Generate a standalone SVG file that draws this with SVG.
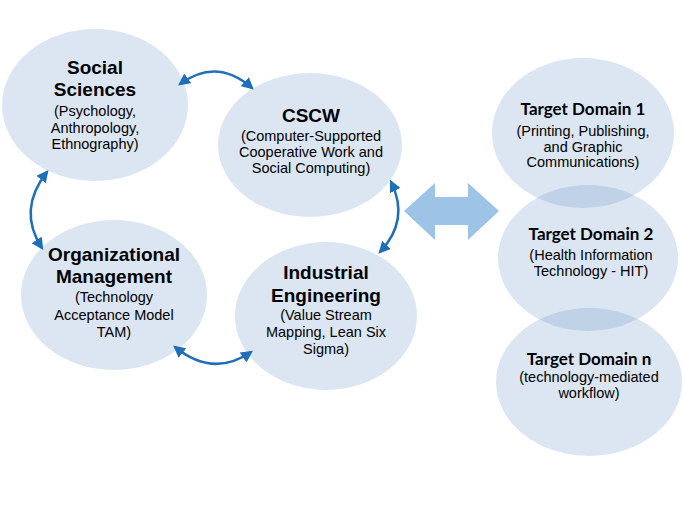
<svg xmlns="http://www.w3.org/2000/svg" width="683" height="512" viewBox="0 0 683 512">
<defs>
<style>
.node{fill:#4F81BD;fill-opacity:0.2}
.t{font-family:"Liberation Sans",Arial,sans-serif;fill:#000;text-anchor:middle}
.b{font-weight:bold;font-size:19px}
.r{font-size:14.5px}
.c{font-family:Lato,"Liberation Sans",sans-serif;font-weight:bold;font-size:17px;fill:#000;text-anchor:middle}
.conn{fill:none;stroke:#1F6FB8;stroke-width:2.5;marker-start:url(#ah);marker-end:url(#ah)}
</style>
<marker id="ah" viewBox="0 0 10 10" refX="8" refY="5" markerWidth="4.8" markerHeight="4.8" orient="auto-start-reverse" markerUnits="strokeWidth">
<path d="M0,0 L10,5 L0,10 z" fill="#1F6FB8"/>
</marker>
</defs>
<rect width="683" height="512" fill="#fff"/>

<g id="social-sciences">
<ellipse class="node" cx="95" cy="105" rx="93" ry="76"/>
<text class="t b" x="95" y="74">Social</text>
<text class="t b" x="95" y="96">Sciences</text>
<text class="t r" x="95" y="116">(Psychology,</text>
<text class="t r" x="95" y="133">Anthropology,</text>
<text class="t r" x="95" y="149">Ethnography)</text>
</g>

<g id="cscw">
<ellipse class="node" cx="310" cy="145" rx="92" ry="72"/>
<text class="t b" x="311" y="122">CSCW</text>
<text class="t r" x="311" y="141">(Computer-Supported</text>
<text class="t r" x="311" y="157">Cooperative Work and</text>
<text class="t r" x="311" y="173">Social Computing)</text>
</g>

<g id="organizational-management">
<ellipse class="node" cx="114" cy="295" rx="93" ry="75"/>
<text class="t b" x="114" y="261">Organizational</text>
<text class="t b" x="114" y="283">Management</text>
<text class="t r" x="114" y="302">(Technology</text>
<text class="t r" x="114" y="320">Acceptance Model</text>
<text class="t r" x="114" y="337">TAM)</text>
</g>

<g id="industrial-engineering">
<ellipse class="node" cx="326" cy="316" rx="91" ry="74"/>
<text class="t b" x="326" y="279">Industrial</text>
<text class="t b" x="326" y="302">Engineering</text>
<text class="t r" x="326" y="320">(Value Stream</text>
<text class="t r" x="326" y="337">Mapping, Lean Six</text>
<text class="t r" x="326" y="354">Sigma)</text>
</g>

<g id="target-domain-1">
<ellipse class="node" cx="583" cy="133" rx="91" ry="75"/>
<text class="c" x="583" y="115">Target Domain 1</text>
<text class="t r" x="583" y="136">(Printing, Publishing,</text>
<text class="t r" x="583" y="152">and Graphic</text>
<text class="t r" x="583" y="167">Communications)</text>
</g>

<g id="target-domain-2">
<ellipse class="node" cx="588" cy="258" rx="90" ry="73"/>
<text class="c" x="591" y="240">Target Domain 2</text>
<text class="t r" x="591" y="260">(Health Information</text>
<text class="t r" x="591" y="276">Technology - HIT)</text>
</g>

<g id="target-domain-n">
<ellipse class="node" cx="589" cy="382" rx="93" ry="74"/>
<text class="c" x="589" y="365">Target Domain n</text>
<text class="t r" x="589" y="382">(technology-mediated</text>
<text class="t r" x="589" y="398">workflow)</text>
</g>

<g id="connectors">
<path class="conn" d="M180,84 Q217,57 252,88"/>
<path class="conn" d="M391,182 Q410,220 380,252"/>
<path class="conn" d="M175,347 Q213,378 251,352"/>
<path class="conn" d="M42,248 Q17,210 47,172"/>
<path id="big-arrow" d="M404,211 L435,183 L435,197 L468,197 L468,183 L499,211 L468,240 L468,225 L435,225 L435,240 Z" fill="#9DC3E6"/>
</g>
</svg>
